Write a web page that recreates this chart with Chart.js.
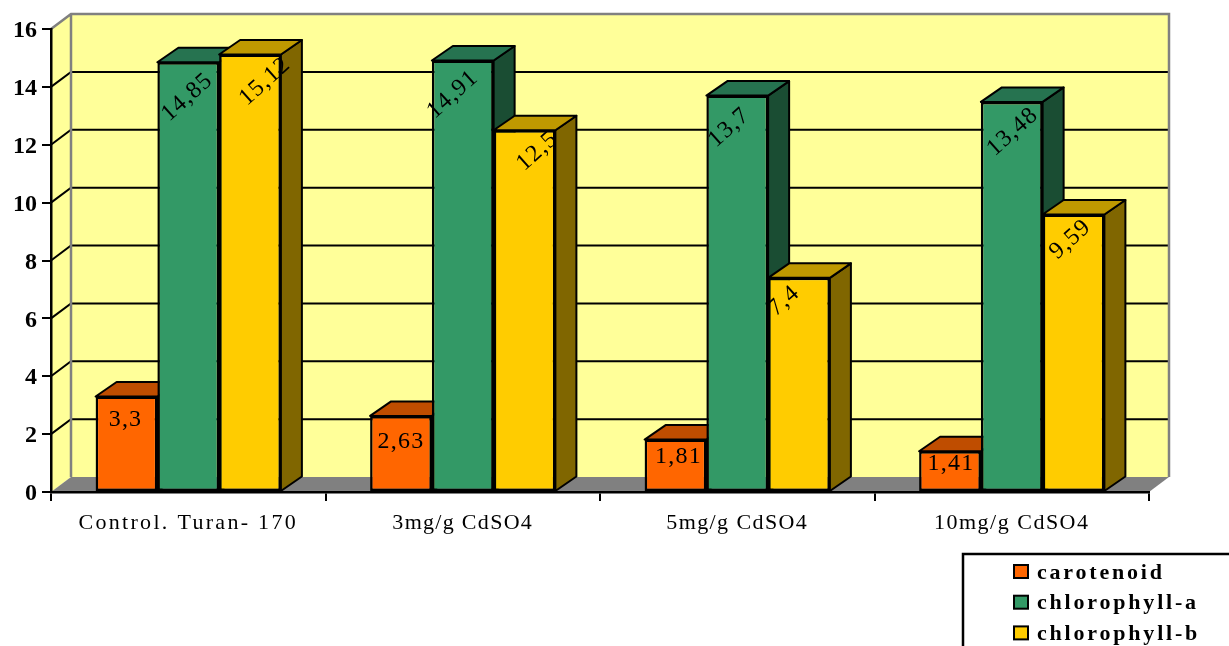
<!DOCTYPE html>
<html>
<head>
<meta charset="utf-8">
<title>Pigments</title>
<script src="https://cdn.jsdelivr.net/npm/chart.js@4"></script>
<style>
  html, body { margin: 0; padding: 0; background: #fff; overflow: hidden; }
  canvas { display: block; }
</style>
</head>
<body>
<canvas id="pigmentChart" width="1229" height="646"></canvas>
<script>
const categories = ['Control. Turan- 170', '3mg/g CdSO4', '5mg/g CdSO4', '10mg/g CdSO4'];
const seriesNames = ['carotenoid', 'chlorophyll-a', 'chlorophyll-b'];
const carotenoid = [3.3, 2.63, 1.81, 1.41];
const chlorophyllA = [14.85, 14.91, 13.7, 13.48];
const chlorophyllB = [15.12, 12.5, 7.4, 9.59];
const yTicks = [0, 2, 4, 6, 8, 10, 12, 14, 16];

const serifFont = '"Liberation Serif", "Times New Roman", serif';

// front, top and side shades of each series
const frontColors = ['#FF6600', '#339966', '#FFCC00'];
const topColors = ['#BF4D00', '#267350', '#BF9900'];
const sideColors = ['#803300', '#1A4D33', '#806600'];

// depth of the back wall and of the bars
const wallDx = 20, wallDy = -15;
const barDx = 21, barDy = -14.5;

// nudges of the value labels from the bar's centre and top, per series then category
const labelNudge = [
  [[-1, 23], [0, 26], [3, 17], [1, 13]],
  [[-1, 35], [-10, 34], [-8, 32], [1, 30]],
  [[15, 27], [13, 21], [-15, 23], [-3, 25]]
];
// letter spacing of the category labels
const categorySpacing = [2.3, 1.3, 1.4, 1.5];

function poly(ctx, pts, fill, stroke, lw) {
  ctx.beginPath();
  pts.forEach((p, i) => i ? ctx.lineTo(p[0], p[1]) : ctx.moveTo(p[0], p[1]));
  ctx.closePath();
  if (fill) { ctx.fillStyle = fill; ctx.fill(); }
  if (stroke) { ctx.strokeStyle = stroke; ctx.lineWidth = lw; ctx.stroke(); }
}

// walls and floor behind the axes
const wallsPlugin = {
  id: 'walls',
  beforeDraw(chart) {
    const { ctx, scales } = chart;
    const x0 = scales.x.left, x1 = scales.x.right;
    const yb = scales.y.getPixelForValue(0), yt = scales.y.getPixelForValue(16);
    ctx.save();
    poly(ctx, [[x0, yb], [x0 + wallDx, yb + wallDy], [x0 + wallDx, yt + wallDy], [x0, yt]], '#FFFF99');
    poly(ctx, [[x0 + wallDx, yb + wallDy], [x1 + wallDx, yb + wallDy], [x1 + wallDx, yt + wallDy], [x0 + wallDx, yt + wallDy]], '#FFFF99');

    ctx.strokeStyle = '#000';
    ctx.lineWidth = 2;
    yTicks.slice(1, -1).forEach(v => {
      const y = scales.y.getPixelForValue(v);
      ctx.beginPath();
      ctx.moveTo(x0, y);
      ctx.lineTo(x0 + wallDx, y + wallDy);
      ctx.lineTo(x1 + wallDx, y + wallDy);
      ctx.stroke();
    });

    // gray outline of the walls
    ctx.strokeStyle = '#808080';
    ctx.lineWidth = 2.5;
    ctx.beginPath();
    ctx.moveTo(x0, yt);
    ctx.lineTo(x0 + wallDx, yt + wallDy);
    ctx.lineTo(x1 + wallDx, yt + wallDy);
    ctx.lineTo(x1 + wallDx, yb + wallDy);
    ctx.moveTo(x0 + wallDx, yt + wallDy);
    ctx.lineTo(x0 + wallDx, yb + wallDy);
    ctx.stroke();

    poly(ctx, [[x0, yb], [x0 + wallDx, yb + wallDy], [x1 + wallDx, yb + wallDy], [x1, yb]], '#808080');
    ctx.restore();
  }
};

// tops and sides of the bars, fronts are the chart's own bars
const bars3dPlugin = {
  id: 'bars3d',
  beforeDatasetsDraw(chart) {
    const { ctx } = chart;
    ctx.save();
    ctx.lineJoin = 'round';
    chart.data.datasets.forEach((ds, i) => {
      chart.getDatasetMeta(i).data.forEach(bar => {
        const l = bar.x - bar.width / 2, r = bar.x + bar.width / 2;
        const t = bar.y, b = bar.base;
        poly(ctx, [[r, b], [r + barDx, b + barDy], [r + barDx, t + barDy], [r, t]], sideColors[i], '#000', 2);
        poly(ctx, [[l, t], [l + barDx, t + barDy], [r + barDx, t + barDy], [r, t]], topColors[i], '#000', 2);
      });
    });
    ctx.restore();
  },
  afterDatasetsDraw(chart) {
    const { ctx } = chart;
    ctx.save();
    ctx.fillStyle = '#000';
    ctx.font = '24px ' + serifFont;
    ctx.letterSpacing = '1.2px';
    ctx.textAlign = 'center';
    ctx.textBaseline = 'middle';
    chart.data.datasets.forEach((ds, i) => {
      chart.getDatasetMeta(i).data.forEach((bar, j) => {
        const nudge = labelNudge[i][j];
        ctx.save();
        ctx.translate(bar.x + nudge[0], bar.y + nudge[1]);
        if (i > 0) ctx.rotate(-42 * Math.PI / 180);
        ctx.fillText(String(ds.data[j]).replace('.', ','), 0, 0);
        ctx.restore();
      });
    });
    ctx.restore();
  }
};

// axis labels, placed from the scales with per-label letter spacing
const axisLabelsPlugin = {
  id: 'axisLabels',
  afterDraw(chart) {
    const { ctx, scales } = chart;
    ctx.save();
    ctx.fillStyle = '#000';
    ctx.textBaseline = 'middle';

    ctx.textAlign = 'right';
    ctx.font = 'bold 24px ' + serifFont;
    yTicks.forEach(v => {
      ctx.fillText(String(v), 37, scales.y.getPixelForValue(v) + 2);
    });

    ctx.textAlign = 'center';
    ctx.font = '22px ' + serifFont;
    categories.forEach((name, i) => {
      ctx.letterSpacing = categorySpacing[i] + 'px';
      ctx.fillText(name, scales.x.getPixelForTick(i), 523);
    });
    ctx.restore();
  }
};

// legend box, runs off the right and bottom of the canvas
const legendBoxPlugin = {
  id: 'legendBox',
  afterDraw(chart) {
    const { ctx } = chart;
    ctx.save();
    ctx.strokeStyle = '#000';
    ctx.lineWidth = 2.5;
    ctx.strokeRect(963, 554, 300, 120);
    ctx.font = 'bold 22px ' + serifFont;
    ctx.letterSpacing = '2.8px';
    ctx.textBaseline = 'middle';
    seriesNames.forEach((name, i) => {
      const y = 572 + i * 30.7;
      ctx.fillStyle = frontColors[i];
      ctx.fillRect(1014, y - 7, 14, 13);
      ctx.lineWidth = 2;
      ctx.strokeRect(1014, y - 7, 14, 13);
      ctx.fillStyle = '#000';
      ctx.fillText(name, 1037, y + 1);
    });
    ctx.restore();
  }
};

new Chart(document.getElementById('pigmentChart'), {
  type: 'bar',
  data: {
    labels: categories,
    datasets: [carotenoid, chlorophyllA, chlorophyllB].map((values, i) => ({
      label: seriesNames[i],
      data: values,
      backgroundColor: frontColors[i],
      borderColor: '#000',
      borderWidth: 2.5,
      borderSkipped: false,
      categoryPercentage: 0.675,
      barPercentage: 1
    }))
  },
  options: {
    responsive: false,
    animation: false,
    layout: { padding: { top: 29, right: 80, left: 0, bottom: 0 } },
    plugins: { legend: { display: false }, tooltip: { enabled: false }, title: { display: false } },
    scales: {
      x: {
        afterFit(scale) { scale.height = 154; },
        grid: { offset: true, drawOnChartArea: false, color: '#000', lineWidth: 2, tickLength: 9 },
        border: { color: '#000', width: 2.5 },
        ticks: { display: false }
      },
      y: {
        min: 0,
        max: 16,
        afterFit(scale) { scale.width = 51; },
        afterBuildTicks(scale) { scale.ticks = yTicks.map(value => ({ value })); },
        grid: { drawOnChartArea: false, color: '#000', lineWidth: 2, tickLength: 9 },
        border: { color: '#000', width: 2.5 },
        ticks: { display: false }
      }
    }
  },
  plugins: [wallsPlugin, bars3dPlugin, axisLabelsPlugin, legendBoxPlugin]
});
</script>
</body>
</html>
